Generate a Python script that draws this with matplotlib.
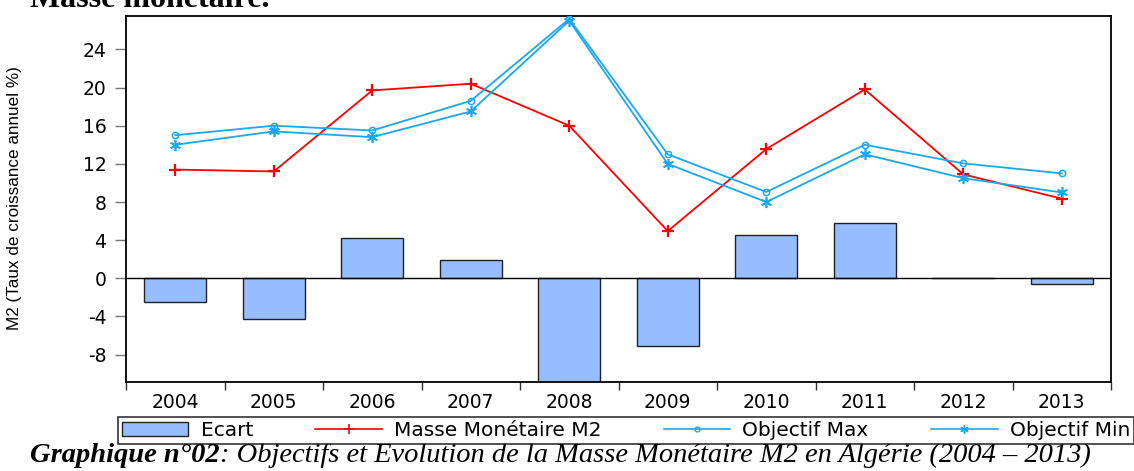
import numpy as np
import matplotlib
matplotlib.use("Agg")
import matplotlib.pyplot as plt
from matplotlib.lines import Line2D
from matplotlib.patches import Patch

years = ["2004", "2005", "2006", "2007", "2008", "2009", "2010", "2011", "2012", "2013"]
ecart = [-2.5, -4.3, 4.2, 1.9, -11.0, -7.05, 4.55, 5.85, 0.0, -0.6]
masse_m2 = [11.4, 11.2, 19.7, 20.4, 16.0, 4.95, 13.55, 19.8, 10.9, 8.35]
obj_max = [15.0, 16.0, 15.5, 18.6, 27.2, 13.0, 9.05, 14.0, 12.05, 11.0]
obj_min = [14.0, 15.4, 14.8, 17.5, 27.0, 12.0, 8.0, 13.0, 10.5, 9.0]
yticks = [-8, -4, 0, 4, 8, 12, 16, 20, 24]

BAR = "#96BDFF"
RED = "#FF0000"
BLUE = "#1AA8EE"

fig = plt.figure(figsize=(11.34, 4.71), dpi=100)
ax = fig.add_axes([126/1134, 1-382/471, (1111-126)/1134, (382-16)/471])

x = np.arange(len(years))
ax.bar(x, ecart, width=0.63, color=BAR, edgecolor="#222222", linewidth=1.0, zorder=2)
ax.axhline(0, color="black", linewidth=1.0, zorder=3)
ax.plot(x, masse_m2, color=RED, lw=1.3, marker="+", ms=8, mew=1.6, zorder=4)
ax.plot(x, obj_max, color=BLUE, lw=1.3, marker="o", ms=4.5, mfc="none", mew=1.1, zorder=4)
ax.plot(x, obj_min, color=BLUE, lw=1.3, marker=(6, 2, 0), ms=8, mew=1.2, zorder=4)

ax.set_xlim(-0.5, len(years) - 0.5)
ax.set_ylim(-10.87, 27.5)
ax.set_yticks(yticks)
ax.set_yticklabels([str(v) for v in yticks], fontsize=13.5, family="DejaVu Sans")
ax.tick_params(axis="y", length=8, width=1, color="#777777", pad=6, direction="out")
ax.set_xticks(x)
ax.set_xticklabels(years, fontsize=13.5, family="DejaVu Sans")
ax.set_xticks(np.arange(len(years) + 1) - 0.5, minor=True)
ax.tick_params(axis="x", which="major", length=0, pad=8)
ax.tick_params(axis="x", which="minor", length=6, width=1, color="#333333", direction="out")
for s in ax.spines.values():
    s.set_linewidth(1.3)
    s.set_color("black")

fig.text(15/1134, 1-198/471, "M2 (Taux de croissance annuel %)", rotation=90,
         ha="center", va="center", fontsize=12.3, family="Liberation Sans")

fig.text(30/1134, 1-7/471, "Masse monétaire.", ha="left", va="baseline",
         fontsize=23, fontweight="bold", family="Liberation Serif")

handles = [Patch(facecolor=BAR, edgecolor="#222222", linewidth=1.0),
           Line2D([], [], color=RED, lw=1.2, marker="+", ms=7, mew=1.2),
           Line2D([], [], color=BLUE, lw=1.2, marker="o", ms=3.5, mfc="none", mew=1),
           Line2D([], [], color=BLUE, lw=1.2, marker=(6, 2, 0), ms=6, mew=1)]
labels = ["Ecart", "Masse Monétaire M2", "Objectif Max", "Objectif Min"]
leg = fig.legend(handles, labels, loc="lower left",
                 bbox_to_anchor=(118/1134, 1-444/471, (1134-118)/1134, 30/471),
                 mode="expand", ncol=4, prop={"family": "DejaVu Sans", "size": 14.5},
                 frameon=True, fancybox=False, edgecolor="black", borderpad=0.2,
                 handlelength=3.3, handletextpad=0.6, columnspacing=0.8, borderaxespad=0)
leg.get_frame().set_linewidth(1.2)

cap_y = 1 - 455/471
t1 = fig.text(30/1134, cap_y, "Graphique n°02", ha="left", va="center",
              fontsize=20.5, family="Liberation Serif", fontweight="bold", style="italic")
fig.canvas.draw()
bb = t1.get_window_extent()
fig.text(bb.x1/1134, cap_y, ": Objectifs et Evolution de la Masse Monétaire M2 en Algérie (2004 – 2013)",
         ha="left", va="center", fontsize=20.5, family="Liberation Serif", style="italic")

fig.savefig("out.png", dpi=100)
